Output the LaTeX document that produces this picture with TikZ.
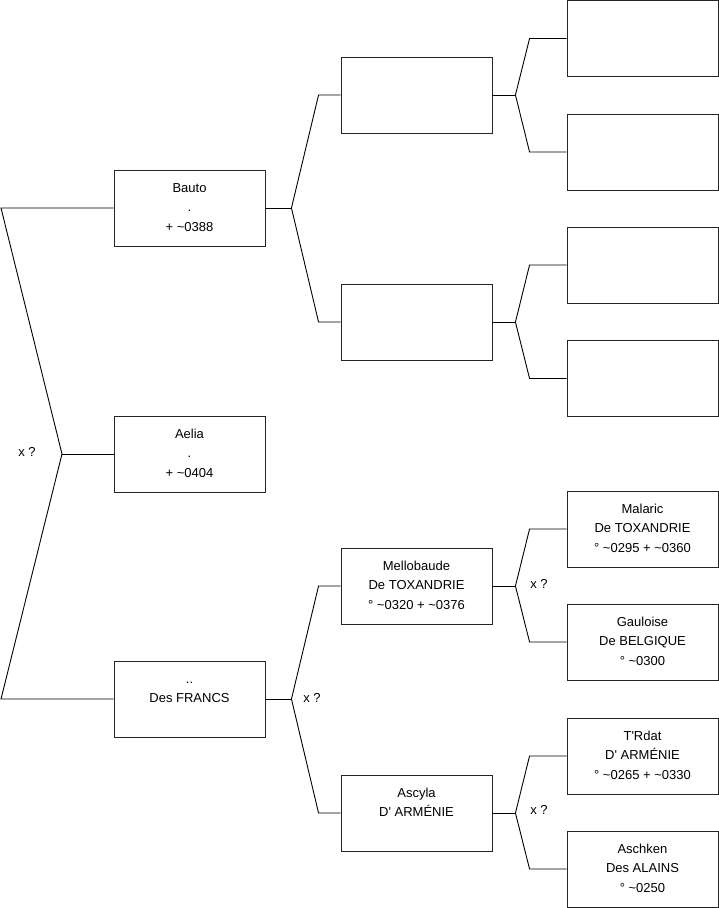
\documentclass[tikz,border=0pt]{standalone}
\usepackage{fontspec}
\setmainfont{Liberation Sans}[Ligatures=TeXOff]
\newcommand\threelines[3]{\strut#1\\\strut#2\\\strut#3}
\begin{document}
\begin{tikzpicture}[x=1pt,y=-1pt,
  person/.style={draw=black!85,line width=0.9pt,minimum width=151pt,minimum height=76pt,
    inner sep=0pt,align=center,font=\fontsize{13}{19.5}\selectfont},
  conn/.style={draw=black,line width=0.9pt},
  xlabel/.style={font=\fontsize{13}{19.5}\selectfont,inner sep=0pt}]
\useasboundingbox (0,0) rectangle (719,908);
% level 1
\node[person] (bauto) at (189.5,208) {\threelines{Bauto}{.}{+ \textasciitilde0388}};
\node[person] (aelia) at (189.5,454) {\threelines{Aelia}{.}{+ \textasciitilde0404}};
\node[person] (francs) at (189.5,699) {\threelines{..}{Des FRANCS}{}};
% level 2
\node[person] (b1) at (416.5,95) {};
\node[person] (b2) at (416.5,322) {};
\node[person] (mello) at (416.5,586) {\threelines{Mellobaude}{De TOXANDRIE}{° \textasciitilde0320 + \textasciitilde0376}};
\node[person] (ascyla) at (416.5,813) {\threelines{Ascyla}{D' ARMÉNIE}{}};
% level 3
\node[person] (c1) at (642.5,38.5) {};
\node[person] (c2) at (642.5,152) {};
\node[person] (c3) at (642.5,265) {};
\node[person] (c4) at (642.5,378.5) {};
\node[person] (malaric) at (642.5,529) {\threelines{Malaric}{De TOXANDRIE}{° \textasciitilde0295 + \textasciitilde0360}};
\node[person] (gauloise) at (642.5,642) {\threelines{Gauloise}{De BELGIQUE}{° \textasciitilde0300}};
\node[person] (trdat) at (642.5,756) {\threelines{T'Rdat}{D' ARMÉNIE}{° \textasciitilde0265 + \textasciitilde0330}};
\node[person] (aschken) at (642.5,869) {\threelines{Aschken}{Des ALAINS}{° \textasciitilde0250}};
% root connectors
\coordinate (rtop) at (1,208);
\coordinate (rmid) at (62,454);
\coordinate (rbot) at (1,699);
\draw[conn] (bauto.west) -- (rtop) -- (rmid) -- (rbot) -- (francs.west);
\draw[conn] (rmid) -- (aelia.west);
\node[xlabel] (xr) at (27,452) {x ?};
% level1 -> level2
\draw[conn] (bauto.east) -- ++(26,0) coordinate (kb);
\draw[conn] (kb) -- ([xshift=-22pt]b1.west) -- (b1.west);
\draw[conn] (kb) -- ([xshift=-22pt]b2.west) -- (b2.west);
\draw[conn] (francs.east) -- ++(26,0) coordinate (kf);
\draw[conn] (kf) -- ([xshift=-22pt]mello.west) -- (mello.west);
\draw[conn] (kf) -- ([xshift=-22pt]ascyla.west) -- (ascyla.west);
\node[xlabel] (xf) at (312,698) {x ?};
% level2 -> level3
\draw[conn] (b1.east) -- ++(23,0) coordinate (k1);
\draw[conn] (k1) -- ([xshift=-37pt]c1.west) -- (c1.west);
\draw[conn] (k1) -- ([xshift=-37pt]c2.west) -- (c2.west);
\draw[conn] (b2.east) -- ++(23,0) coordinate (k2);
\draw[conn] (k2) -- ([xshift=-37pt]c3.west) -- (c3.west);
\draw[conn] (k2) -- ([xshift=-37pt]c4.west) -- (c4.west);
\draw[conn] (mello.east) -- ++(23,0) coordinate (km);
\draw[conn] (km) -- ([xshift=-37pt]malaric.west) -- (malaric.west);
\draw[conn] (km) -- ([xshift=-37pt]gauloise.west) -- (gauloise.west);
\node[xlabel] (xm) at (539,584) {x ?};
\draw[conn] (ascyla.east) -- ++(23,0) coordinate (ka);
\draw[conn] (ka) -- ([xshift=-37pt]trdat.west) -- (trdat.west);
\draw[conn] (ka) -- ([xshift=-37pt]aschken.west) -- (aschken.west);
\node[xlabel] (xa) at (539,810) {x ?};
\end{tikzpicture}
\end{document}
